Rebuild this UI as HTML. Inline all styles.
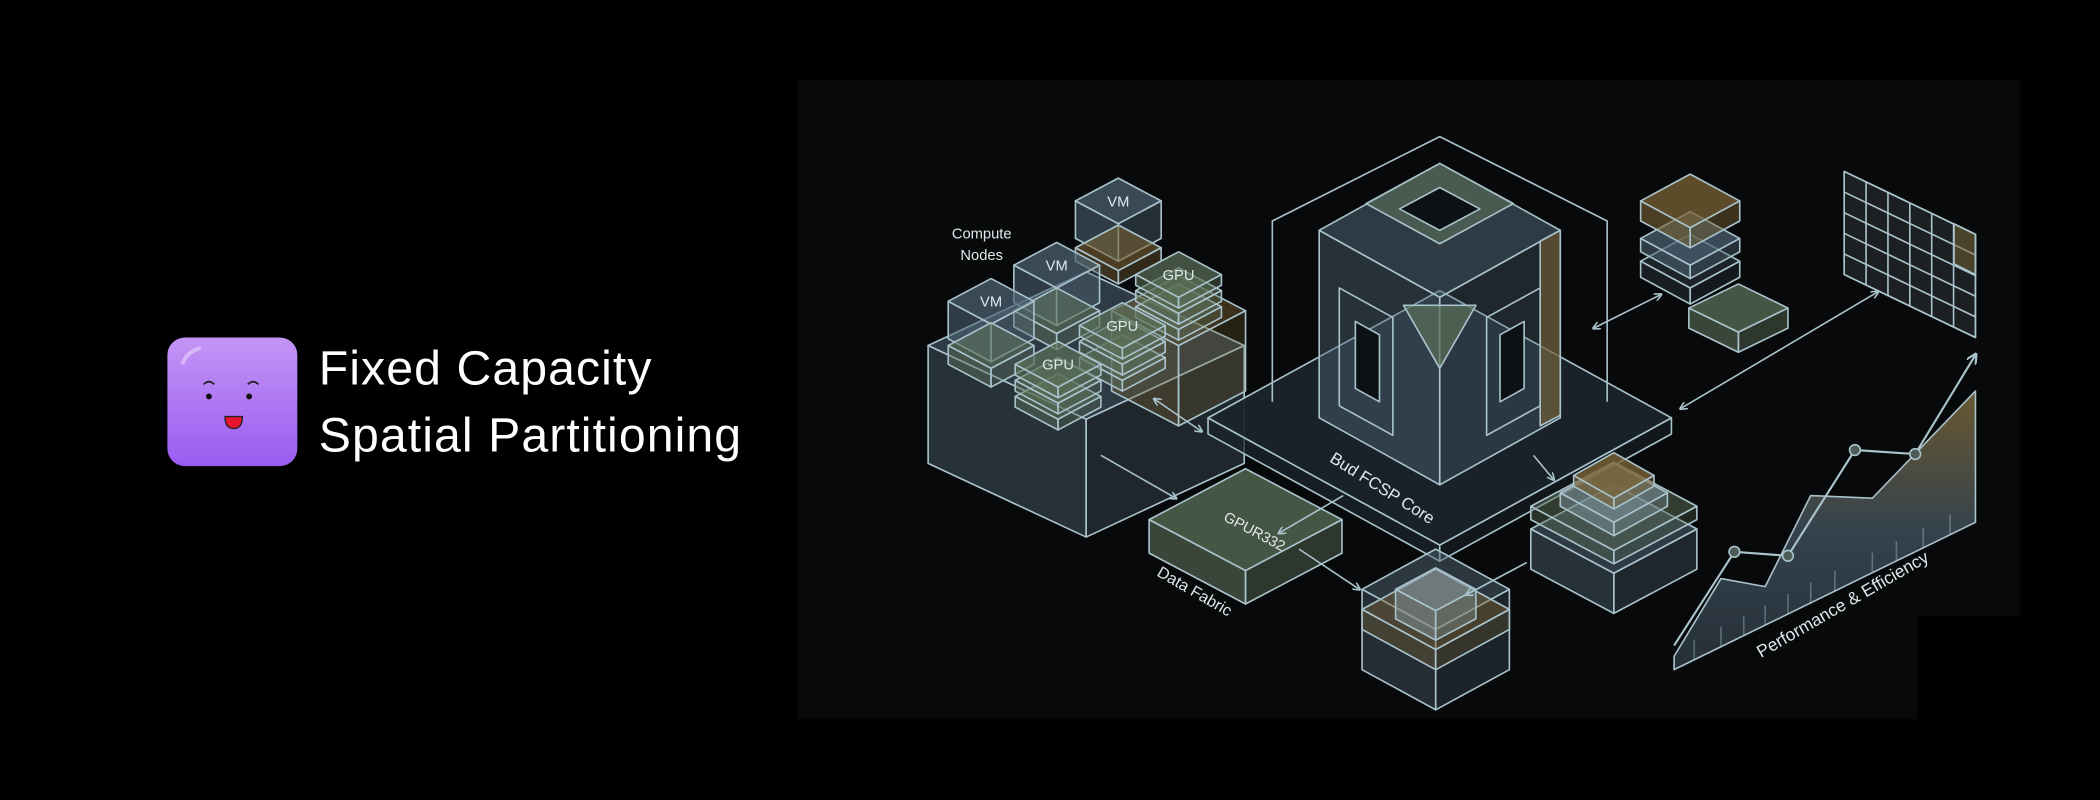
<!DOCTYPE html>
<html><head><meta charset="utf-8"><style>
html,body{margin:0;padding:0;background:#000;width:2100px;height:800px;overflow:hidden}
svg{display:block}
</style></head><body>
<svg id="s" width="2100" height="800" viewBox="0 0 1568 597.33" xmlns="http://www.w3.org/2000/svg" font-family="Liberation Sans, sans-serif">
<defs>
<linearGradient id="ic" x1="0" y1="0" x2="0" y2="1"><stop offset="0" stop-color="#c495f5"/><stop offset="1" stop-color="#9a5cf0"/></linearGradient>
<linearGradient id="area" x1="0" y1="0" x2="0" y2="1"><stop offset="0" stop-color="#7a6638"/><stop offset="0.5" stop-color="#3d4c58"/><stop offset="1" stop-color="#2a3640"/></linearGradient>
<marker id="ah" viewBox="0 0 10 10" refX="8" refY="5" markerWidth="5" markerHeight="5" orient="auto-start-reverse"><path d="M0,0 L10,5 L0,10" fill="none" stroke="#a9c3cc" stroke-width="2"/></marker>
</defs>
<rect width="1568" height="597.33" fill="#000"/>
<rect x="595" y="60" width="913" height="400" fill="#08090a"/>
<rect x="595" y="460" width="837" height="77" fill="#08090a"/>
<rect x="125" y="252" width="97" height="96" rx="13" fill="url(#ic)"/>
<path d="M136 272 q4 -10 14 -12" stroke="#e6d4fb" stroke-width="3" fill="none" opacity=".6"/>
<path d="M152 287 q4 -4 8 0 M185 287 q4 -4 8 0" stroke="#222" stroke-width="1.3" fill="none"/>
<circle cx="156" cy="296" r="2.2" fill="#111"/><circle cx="186" cy="296" r="2.2" fill="#111"/>
<path d="M168 311 h13 q0 9 -6.5 9 q-6.5 0 -6.5 -9z" fill="#e8132f" stroke="#222" stroke-width="1"/>
<text x="238" y="287" fill="#fff" font-size="36" letter-spacing="0.8">Fixed Capacity</text>
<text x="238" y="337" fill="#fff" font-size="36" letter-spacing="0.8">Spatial Partitioning</text>
<g id="d" stroke="#a9c3cc" stroke-width="1.2" stroke-linejoin="round"></g>
</svg>
<script>
var g=document.getElementById('d'),NS='http://www.w3.org/2000/svg';
function el(t,a,txt){var e=document.createElementNS(NS,t);for(var k in a)e.setAttribute(k,a[k]);if(txt)e.textContent=txt;g.appendChild(e);return e;}
function poly(p,f,o){el('polygon',{points:p.map(function(q){return q.join(',')}).join(' '),fill:f||'none','fill-opacity':o==null?1:o});}
var C={b:'#4f6575',g:'#5b7058',y:'#7a6334',d:'#1b242b'};
function box(x,y,w,h,d,c,o){o=o==null?0.7:o;
 poly([[x-w,y],[x,y+h],[x,y+h+d],[x-w,y+d]],c,o*0.8);
 poly([[x+w,y],[x,y+h],[x,y+h+d],[x+w,y+d]],c,o*0.6);
 poly([[x,y-h],[x+w,y],[x,y+h],[x-w,y]],c,o);}
function line(a,b,arr){var e=el('line',{x1:a[0],y1:a[1],x2:b[0],y2:b[1],'marker-end':'url(#ah)'});if(arr)e.setAttribute('marker-start','url(#ah)');}
function txt(x,y,s,sz,rot){var e=el('text',{x:x,y:y,fill:'#dfe8ea',stroke:'none','font-size':sz,'text-anchor':'middle'},s);if(rot)e.setAttribute('transform','rotate('+rot+' '+x+' '+y+')');}
box(811,258,118,55,88,C.b,0.55);
box(880,232,50,26,60,C.y,0.45);
box(835,150,32,17,28,C.b,0.7);box(835,185,32,17,10,C.y,0.6);
box(789,198,32,17,28,C.b,0.7);box(789,232,32,17,12,C.g,0.6);
box(740,225,32,17,28,C.b,0.7);box(740,258,32,17,14,C.g,0.6);
[[880,205],[838,243],[790,272]].forEach(function(p){box(p[0],p[1]+24,32,17,8,C.g,0.6);box(p[0],p[1]+12,32,17,8,C.g,0.6);box(p[0],p[1],32,17,8,C.g,0.7);});
txt(835,154,'VM',11);txt(789,202,'VM',11);txt(740,229,'VM',11);
txt(880,209,'GPU',11);txt(838,247,'GPU',11);txt(790,276,'GPU',11);
txt(733,178,'Compute',11);txt(733,194,'Nodes',11);
box(1075,312,173,95,12,C.d,0.95);
el('polyline',{points:'950,300 950,165 1075,102 1200,165 1200,300',fill:'none'});
box(1075,172,90,50,140,C.b,0.55);
poly([[1150,180],[1165,172],[1165,310],[1150,318]],C.y,0.6);
poly([[1075,122],[1130,152],[1075,182],[1020,152]],C.g,0.6);
poly([[1075,140],[1105,156],[1075,172],[1045,156]],'#0c1115',1);
poly([[1048,228],[1102,228],[1075,275]],C.g,0.7);
poly([[1000,215],[1040,237],[1040,325],[1000,303]],'none');
poly([[1012,240],[1030,250],[1030,300],[1012,290]],'#0c1115',1);
poly([[1150,215],[1110,237],[1110,325],[1150,303]],'none');
poly([[1138,240],[1120,250],[1120,300],[1138,290]],'#0c1115',1);
txt(1030,368,'Bud FCSP Core',12.5,32);
box(930,388,72,38,25,C.g,0.75);
txt(935,400,'GPUR332',11,28);txt(890,445,'Data Fabric',12,30);
box(1072,440,55,30,60,C.b,0.5);box(1072,455,55,30,15,C.y,0.45);box(1072,440,30,16,22,'#8aa0ae',0.55);
box(1205,395,62,33,30,C.b,0.55);box(1205,378,62,33,10,C.g,0.5);box(1205,368,40,22,10,'#8aa0ae',0.5);box(1205,355,30,17,8,C.y,0.8);
box(1262,195,37,20,12,C.b,0.3);box(1262,178,37,20,10,C.b,0.7);box(1262,150,37,20,15,C.y,0.75);box(1298,230,37,18,15,C.g,0.75);
(function(){var x0=1377,x1=1475,yt0=128,yt1=175,h=77;poly([[x0,yt0],[x1,yt1],[x1,yt1+h],[x0,yt0+h]],'#5b6670',0.25);
 for(var i=0;i<=6;i++){var x=x0+(x1-x0)*i/6,y=yt0+(yt1-yt0)*i/6;el('line',{x1:x,y1:y,x2:x,y2:y+h});}
 for(var j=0;j<=5;j++){var o=h*j/5;el('line',{x1:x0,y1:yt0+o,x2:x1,y2:yt1+o});}
 poly([[1459,167],[1475,175],[1475,205],[1459,197]],C.y,0.5);})();
poly([[1250,500],[1250,490],[1285,432],[1318,438],[1352,370],[1398,372],[1475,292],[1475,390]],'url(#area)',0.85);
[1265,1285,1302,1318,1335,1352,1370,1398,1416,1436,1456].forEach(function(x){var yb=500-(x-1250)*110/225;el('line',{x1:x,y1:yb,x2:x,y2:yb-15,'stroke-opacity':0.4});});
el('polyline',{points:'1250,482 1295,412 1335,415 1385,336 1430,339 1475,265',fill:'none','stroke-width':1.6,'marker-end':'url(#ah)'});
[[1295,412],[1335,415],[1385,336],[1430,339]].forEach(function(p){el('circle',{cx:p[0],cy:p[1],r:4,fill:'#4d5a55'});});
txt(1378,455,'Performance & Efficiency',13,-30);
line([862,298],[897,322],1);line([822,340],[878,372]);line([1003,370],[955,398]);
line([970,410],[1015,440]);line([1140,420],[1095,444]);line([1145,340],[1160,358]);
line([1190,245],[1240,220],1);line([1255,305],[1402,218],1);
</script>
</body></html>
